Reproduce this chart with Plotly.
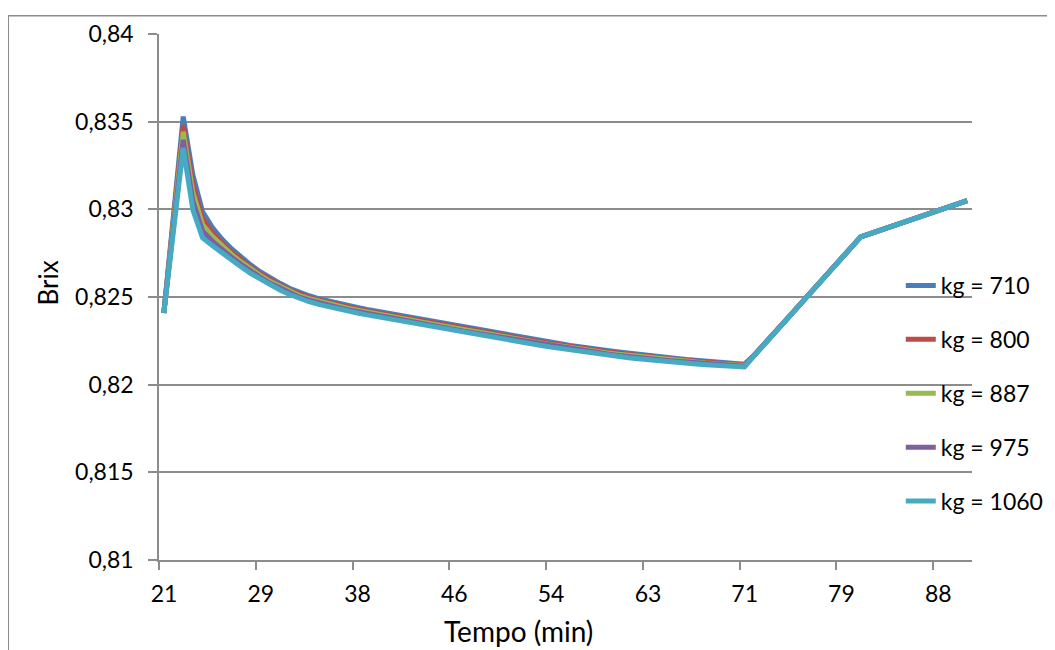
import plotly.graph_objects as go

# ---- data -------------------------------------------------------------
tempo_min = [21.00, 21.83, 22.67, 23.50, 24.33, 25.17, 26.00, 26.83, 27.67, 28.50,
             29.33, 30.17, 31.00, 31.83, 32.67, 33.50, 34.33, 35.17, 36.00, 36.83,
             37.67, 38.50, 39.33, 40.17, 41.00, 41.83, 42.67, 43.50, 44.33, 45.17,
             46.00, 46.83, 47.67, 48.50, 49.33, 50.17, 51.00, 51.83, 52.67, 53.50,
             54.33, 55.17, 56.00, 56.83, 57.67, 58.50, 59.33, 60.17, 61.00, 61.83,
             62.67, 63.50, 64.33, 65.17, 66.00, 66.83, 67.67, 68.50, 69.33, 70.17,
             71.00, 71.83, 72.67, 73.50, 74.33, 75.17, 76.00, 76.83, 77.67, 78.50,
             79.33, 80.17, 81.00, 81.83, 82.67, 83.50, 84.33, 85.17, 86.00, 86.83,
             87.67, 88.50, 89.33, 90.17]

brix_kg710 = [0.82409, 0.82969, 0.83529, 0.83197, 0.82988, 0.82898, 0.82830, 0.82775, 0.82726, 0.82682,
              0.82643, 0.82608, 0.82578, 0.82550, 0.82525, 0.82507, 0.82491, 0.82477, 0.82464, 0.82452,
              0.82441, 0.82429, 0.82419, 0.82409, 0.82397, 0.82387, 0.82377, 0.82367, 0.82358, 0.82347,
              0.82337, 0.82327, 0.82318, 0.82308, 0.82297, 0.82288, 0.82279, 0.82269, 0.82260, 0.82251,
              0.82241, 0.82233, 0.82224, 0.82215, 0.82208, 0.82200, 0.82193, 0.82186, 0.82179, 0.82173,
              0.82166, 0.82161, 0.82155, 0.82150, 0.82144, 0.82139, 0.82134, 0.82129, 0.82125, 0.82121,
              0.82117, 0.82169, 0.82227, 0.82289, 0.82350, 0.82412, 0.82474, 0.82535, 0.82597, 0.82659,
              0.82720, 0.82782, 0.82843, 0.82862, 0.82881, 0.82899, 0.82918, 0.82937, 0.82955, 0.82974,
              0.82993, 0.83011, 0.83030, 0.83049]

brix_kg800 = [0.82409, 0.82945, 0.83481, 0.83143, 0.82948, 0.82870, 0.82808, 0.82757, 0.82711, 0.82669,
              0.82631, 0.82597, 0.82568, 0.82540, 0.82516, 0.82498, 0.82482, 0.82468, 0.82455, 0.82443,
              0.82432, 0.82421, 0.82411, 0.82401, 0.82389, 0.82379, 0.82369, 0.82359, 0.82350, 0.82339,
              0.82329, 0.82319, 0.82310, 0.82300, 0.82289, 0.82280, 0.82271, 0.82261, 0.82252, 0.82243,
              0.82234, 0.82226, 0.82217, 0.82208, 0.82201, 0.82193, 0.82186, 0.82179, 0.82172, 0.82166,
              0.82160, 0.82155, 0.82149, 0.82144, 0.82138, 0.82133, 0.82129, 0.82124, 0.82120, 0.82116,
              0.82113, 0.82168, 0.82227, 0.82289, 0.82350, 0.82412, 0.82474, 0.82535, 0.82597, 0.82659,
              0.82720, 0.82782, 0.82843, 0.82862, 0.82881, 0.82899, 0.82918, 0.82937, 0.82955, 0.82974,
              0.82993, 0.83011, 0.83030, 0.83049]

brix_kg887 = [0.82409, 0.82926, 0.83443, 0.83097, 0.82913, 0.82846, 0.82790, 0.82743, 0.82699, 0.82658,
              0.82622, 0.82588, 0.82559, 0.82532, 0.82508, 0.82490, 0.82475, 0.82461, 0.82448, 0.82436,
              0.82425, 0.82414, 0.82404, 0.82394, 0.82382, 0.82372, 0.82362, 0.82352, 0.82343, 0.82333,
              0.82323, 0.82313, 0.82304, 0.82294, 0.82283, 0.82274, 0.82265, 0.82255, 0.82246, 0.82237,
              0.82228, 0.82220, 0.82211, 0.82202, 0.82195, 0.82187, 0.82180, 0.82173, 0.82167, 0.82161,
              0.82154, 0.82149, 0.82144, 0.82139, 0.82133, 0.82129, 0.82124, 0.82120, 0.82116, 0.82113,
              0.82109, 0.82167, 0.82227, 0.82289, 0.82350, 0.82412, 0.82474, 0.82535, 0.82597, 0.82659,
              0.82720, 0.82782, 0.82843, 0.82862, 0.82881, 0.82899, 0.82918, 0.82937, 0.82955, 0.82974,
              0.82993, 0.83011, 0.83030, 0.83049]

brix_kg975 = [0.82409, 0.82903, 0.83396, 0.83047, 0.82876, 0.82819, 0.82770, 0.82726, 0.82685, 0.82646,
              0.82611, 0.82578, 0.82550, 0.82523, 0.82499, 0.82482, 0.82466, 0.82452, 0.82440, 0.82428,
              0.82417, 0.82406, 0.82396, 0.82386, 0.82375, 0.82365, 0.82355, 0.82345, 0.82336, 0.82325,
              0.82315, 0.82305, 0.82296, 0.82286, 0.82276, 0.82267, 0.82258, 0.82248, 0.82239, 0.82230,
              0.82221, 0.82213, 0.82204, 0.82195, 0.82188, 0.82181, 0.82174, 0.82167, 0.82160, 0.82154,
              0.82148, 0.82143, 0.82138, 0.82133, 0.82128, 0.82123, 0.82119, 0.82115, 0.82112, 0.82108,
              0.82105, 0.82166, 0.82227, 0.82289, 0.82350, 0.82412, 0.82474, 0.82535, 0.82597, 0.82659,
              0.82720, 0.82782, 0.82843, 0.82862, 0.82881, 0.82899, 0.82918, 0.82937, 0.82955, 0.82974,
              0.82993, 0.83011, 0.83030, 0.83049]

brix_kg1060 = [0.82409, 0.82880, 0.83351, 0.82997, 0.82838, 0.82793, 0.82750, 0.82710, 0.82671, 0.82634,
               0.82600, 0.82568, 0.82540, 0.82514, 0.82490, 0.82473, 0.82458, 0.82444, 0.82432, 0.82420,
               0.82409, 0.82398, 0.82388, 0.82378, 0.82367, 0.82357, 0.82347, 0.82337, 0.82328, 0.82318,
               0.82308, 0.82298, 0.82289, 0.82279, 0.82269, 0.82260, 0.82251, 0.82241, 0.82232, 0.82223,
               0.82214, 0.82206, 0.82197, 0.82188, 0.82181, 0.82174, 0.82167, 0.82160, 0.82154, 0.82148,
               0.82142, 0.82137, 0.82132, 0.82127, 0.82122, 0.82118, 0.82114, 0.82110, 0.82107, 0.82104,
               0.82101, 0.82165, 0.82227, 0.82289, 0.82350, 0.82412, 0.82474, 0.82535, 0.82597, 0.82659,
               0.82720, 0.82782, 0.82843, 0.82862, 0.82881, 0.82899, 0.82918, 0.82937, 0.82955, 0.82974,
               0.82993, 0.83011, 0.83030, 0.83049]

series_names = ["kg = 710", "kg = 800", "kg = 887", "kg = 975", "kg = 1060"]
series_colors = ["#4A7EBB", "#BE4B48", "#98B954", "#7D60A0", "#46AAC5"]

x_tick_labels = ["21", "29", "38", "46", "54", "63", "71", "79", "88"]
x_tick_times = [21.00, 29.33, 37.67, 46.00, 54.33, 62.67, 71.00, 79.33, 87.67]
y_tick_values = [0.81, 0.815, 0.82, 0.825, 0.83, 0.835, 0.84]
y_tick_labels = ["0,81", "0,815", "0,82", "0,825", "0,83", "0,835", "0,84"]
x_title = "Tempo (min)"
y_title = "Brix"

# ---- figure -----------------------------------------------------------
FONT = "Lato, Carlito, Calibri, 'DejaVu Sans', sans-serif"
GRID = "#8c8c8c"
half_step = (tempo_min[1] - tempo_min[0]) / 2

fig = go.Figure()
all_series = [brix_kg710, brix_kg800, brix_kg887, brix_kg975, brix_kg1060]
for name, color, ys in zip(series_names, series_colors, all_series):
    fig.add_trace(go.Scatter(
        x=tempo_min, y=ys, mode="lines", name=name, legendgroup=name,
        line=dict(color=color, width=5),
    ))

fig.update_layout(
    width=1055, height=650,
    paper_bgcolor="white", plot_bgcolor="white",
    margin=dict(l=151, r=91, t=26, b=98),
    font=dict(family=FONT, size=23, color="black"),
    showlegend=True,
    legend=dict(
        x=0.9124, y=0.5627, xanchor="left", yanchor="top",
        bgcolor="rgba(0,0,0,0)", borderwidth=0,
        font=dict(family=FONT, size=23, color="black"),
        tracegroupgap=21, itemwidth=30,
    ),
    xaxis=dict(
        range=[tempo_min[0] - half_step, tempo_min[-1] + half_step],
        tickmode="array",
        tickvals=[t - half_step for t in x_tick_times],
        ticktext=x_tick_labels,
        ticklabelshift=5,
        ticks="outside", ticklen=8, tickwidth=1.5, tickcolor=GRID,
        showline=True, linecolor=GRID, linewidth=1.5,
        showgrid=False, zeroline=False,
        ticklabelstandoff=5,
    ),
    yaxis=dict(
        range=[0.81, 0.84],
        tickmode="array", tickvals=y_tick_values, ticktext=y_tick_labels,
        ticks="outside", ticklen=9, tickwidth=1.5, tickcolor=GRID,
        showline=True, linecolor=GRID, linewidth=1.5,
        showgrid=True, gridcolor=GRID, gridwidth=1.5,
        zeroline=False,
        ticklabelstandoff=10,
    ),
)

# axis titles (positioned as in the source chart)
fig.add_annotation(text=x_title, xref="paper", yref="paper",
                   x=0.4428, y=-0.135, xanchor="center", yanchor="middle",
                   showarrow=False, font=dict(family=FONT, size=28, color="black"))
fig.add_annotation(text=y_title, xref="paper", yref="paper", textangle=-90,
                   x=-0.136, y=0.5266, xanchor="center", yanchor="middle",
                   showarrow=False, font=dict(family=FONT, size=26, color="black"))

# outer chart-area border (extends beyond the visible window on right/bottom)
fig.add_shape(type="rect", xref="paper", yref="paper",
              x0=-0.1854, x1=1.13, y0=-0.243, y1=1.0348,
              line=dict(color=GRID, width=1.5), fillcolor="rgba(0,0,0,0)", layer="below")

fig.write_html("out.html")
